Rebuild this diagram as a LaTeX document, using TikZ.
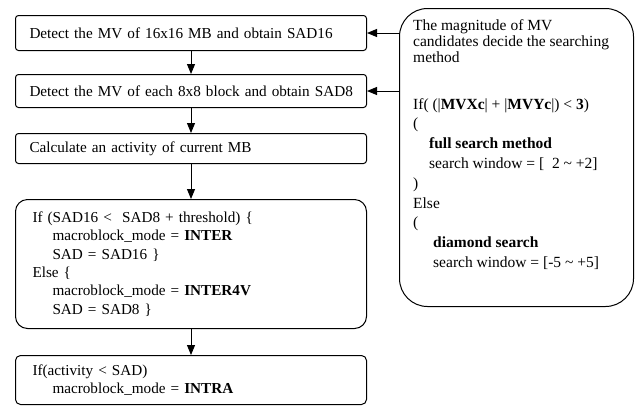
\documentclass[tikz,border=0pt]{standalone}
\usepackage{fontspec}
\setmainfont{Liberation Serif}
\usetikzlibrary{arrows.meta}
\begin{document}
\begin{tikzpicture}[x=1pt,y=-1pt,
  every node/.style={font=\fontsize{15.2}{17.6}\selectfont},
  box/.style={draw, line width=1pt, rounded corners=3pt, anchor=north west,
    inner xsep=14pt, inner ysep=0pt, minimum width=351pt, text width=323pt, align=left},
  bigbox/.style={box, inner xsep=17pt, text width=317pt},
  arr/.style={-{Triangle[length=10pt,width=8pt]}, line width=1pt}]
\useasboundingbox (0,0) rectangle (636,405);

% flow of the mode decision
\node[box, minimum height=35pt] (b1) at (15,15) {\mbox{Detect the MV of 16x16 MB and obtain SAD16}};
\node[box, minimum height=33pt] (b2) at (15,74) {\mbox{Detect the MV of each 8x8 block and obtain SAD8}};
\node[box, minimum height=30pt] (b3) at (15,133) {\mbox{Calculate an activity of current MB}};
\node[bigbox, rounded corners=12pt, minimum height=129pt,
  font=\fontsize{15.2}{18.4}\selectfont] (b4) at (15,199)
  {If (SAD16 <\ \ SAD8 + threshold) \{\\
   \hspace*{20pt}macroblock\_mode = \textbf{INTER}\\
   \hspace*{20pt}SAD = SAD16 \}\\
   Else \{\\
   \hspace*{20pt}macroblock\_mode = \textbf{INTER4V}\\
   \hspace*{20pt}SAD = SAD8 \}};
\node[bigbox, rounded corners=5pt, minimum height=49pt] (b5) at (15,355)
  {If(activity < SAD)\\
   \hspace*{20pt}macroblock\_mode = \textbf{INTRA}};

\draw[arr] (b1) -- (b2);
\draw[arr] (b2) -- (b3);
\draw[arr] (b3) -- (b4);
\draw[arr] (b4) -- (b5);

% search method selection
\node[draw, line width=1pt, rounded corners=28pt, anchor=north west,
  minimum width=234pt, minimum height=298pt] (rb) at (399,8) {};
\node[anchor=north west, inner sep=0pt, align=left,
  font=\fontsize{15.5}{16}\selectfont] (rt) at (413,19)
  {The magnitude of MV\\
   candidates decide the searching\\
   method\\[31pt]
   If( (|\textbf{MVXc}| + |\textbf{MVYc}|) < \textbf{3})\\[3.8pt]
   (\\[3.8pt]
   \hspace*{16pt}\textbf{full search method}\\[3.8pt]
   \hspace*{16pt}search window = [ \ 2 \textasciitilde\ +2]\\[3.8pt]
   )\\[3.8pt]
   Else\\[3.8pt]
   (\\[3.8pt]
   \hspace*{20pt}\textbf{diamond search}\\[3.8pt]
   \hspace*{20pt}search window = [-5 \textasciitilde\ +5]};

\draw[arr] (b1.east -| rb.west) -- (b1.east);
\draw[arr] (b2.east -| rb.west) -- (b2.east);
\end{tikzpicture}
\end{document}
